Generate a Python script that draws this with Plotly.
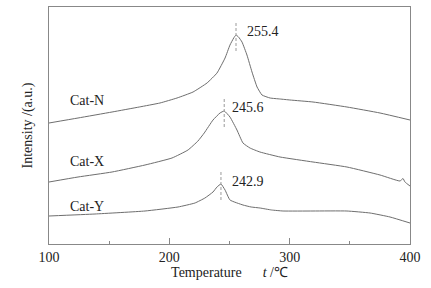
import numpy as np
import plotly.graph_objects as go

# Cat-N
temp_n = [100, 124.1, 152.4, 175.0, 192.2, 206.4, 219.7, 231.3, 239.6, 246.3, 250.4, 253.5,
          255.4, 257.5, 260.4, 264.5, 268.7, 272.9, 277.0, 283.7, 292.0, 300.3, 319.4,
          347.6, 375.1, 400]
int_n = [121, 126, 132, 137, 141, 146, 152, 161, 171, 186, 199, 206,
         209, 207, 202, 189, 172, 157, 149, 146, 145, 144, 142,
         137, 131, 124]

# Cat-X
temp_x = [100, 124.1, 152.4, 179.8, 202.2, 215.5, 223.8, 229.0, 236.3, 242.1, 245.6,
          250.4, 256.2, 261.2, 267.0, 275.3, 292.0, 319.4, 347.6, 375.1, 391.7, 394.2, 395.8, 400]
int_x = [62, 67, 72, 79, 86, 94, 103, 111, 124, 131, 133,
         127, 114, 101, 96, 92, 87, 82, 77, 69, 63, 65.5, 62, 58]

# Cat-Y
temp_y = [100, 138.2, 179.8, 207.2, 221.3, 229.6, 236.3, 239.6, 242.9, 246.3, 250.4,
          261.2, 268.0, 275.3, 285.0, 294.5, 319.4, 347.6, 366.8, 383.4, 400]
int_y = [28, 30, 33, 37, 41, 46, 52, 57, 60, 54, 44,
         39, 37, 36, 34, 33, 33, 33, 31, 27, 21]

names = ["Cat-N", "Cat-X", "Cat-Y"]
peak_temps = [255.4, 245.6, 242.9]
name_pos_y = [144, 83, 38]
peak_label_x = [262.9, 250.4, 250.4]
peak_label_y = [213, 137, 63]

series = [(temp_n, int_n), (temp_x, int_x), (temp_y, int_y)]

FONT = "Liberation Serif, Times New Roman, serif"

fig = go.Figure()
for (t, v), nm in zip(series, names):
    fig.add_trace(go.Scatter(x=t, y=v, mode="lines", name=nm,
                             line=dict(color="#6e6e6e", width=1, shape="spline", smoothing=0.4)))

for (t, v), nm, pk, ny, lx, ly in zip(series, names, peak_temps, name_pos_y,
                                       peak_label_x, peak_label_y):
    py = float(np.interp(pk, t, v))
    fig.add_shape(type="line", x0=pk, x1=pk, y0=py - 16, y1=py + 13,
                  line=dict(color="#9a9a9a", width=1, dash="3px,2px"))
    fig.add_annotation(x=131.6, y=ny, text=nm, showarrow=False,
                       font=dict(family=FONT, size=14, color="#222"))
    fig.add_annotation(x=lx, y=ly, text=f"{pk}", showarrow=False, xanchor="left",
                       font=dict(family=FONT, size=14, color="#222"))

fig.update_xaxes(range=[100, 400], tickvals=[100, 200, 300, 400],
                 ticks="inside", ticklen=6, tickcolor="#888",
                 minor=dict(tickvals=[150, 250, 350], ticks="inside", ticklen=3, tickcolor="#888"),
                 showline=True, linecolor="#888", linewidth=1, mirror=True,
                 showgrid=False, zeroline=False,
                 tickfont=dict(family=FONT, size=14, color="#222"),
                 title=dict(text="Temperature      <i>t</i> /℃", standoff=0,
                            font=dict(family=FONT, size=14, color="#222")))
fig.update_yaxes(range=[0, 237], showticklabels=False, ticks="",
                 showline=True, linecolor="#888", linewidth=1, mirror=True,
                 showgrid=False, zeroline=False,
                 title=dict(text="Intensity /(a.u.)", standoff=12,
                            font=dict(family=FONT, size=14, color="#222")))

fig.update_layout(width=431, height=288, margin=dict(l=49, r=21, t=7, b=44),
                  plot_bgcolor="white", paper_bgcolor="white", showlegend=False)

fig.write_html("out.html", config={"displayModeBar": False},
               post_script="document.body.style.margin='0';")
